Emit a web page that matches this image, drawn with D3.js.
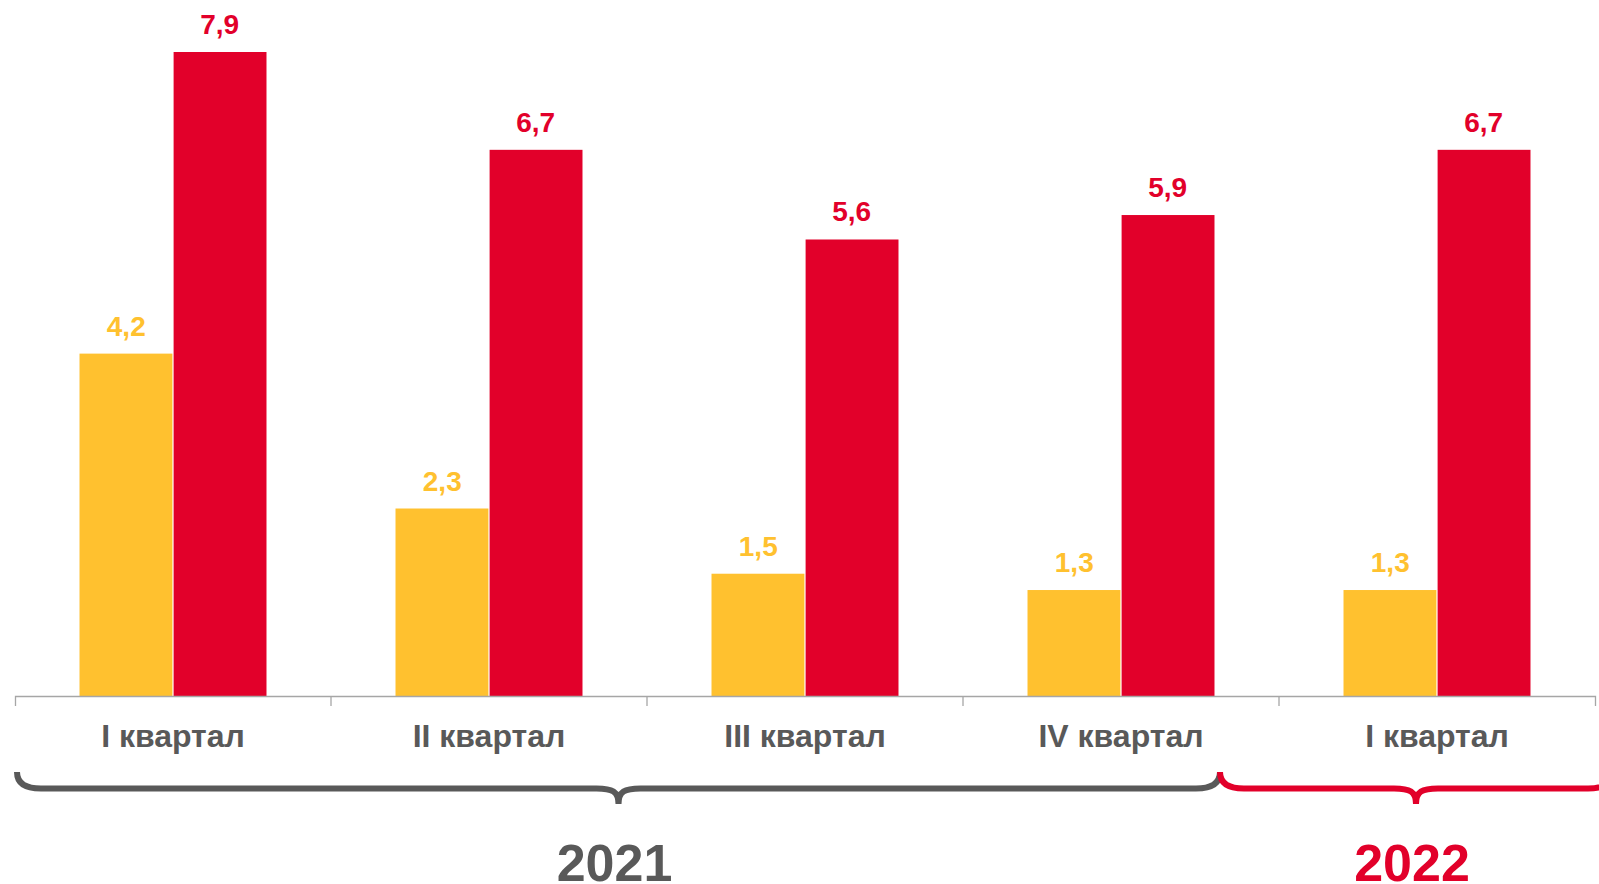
<!DOCTYPE html>
<html>
<head>
<meta charset="utf-8">
<script src="https://cdn.jsdelivr.net/npm/d3@7"></script>
<style>
  body { margin: 0; background: #fff; }
  text { font-family: "Liberation Sans", Arial, sans-serif; font-weight: bold; }
</style>
</head>
<body>
<div id="chart"></div>
<script>
// данные
const quarters = ["I квартал", "II квартал", "III квартал", "IV квартал", "I квартал"];
const seriesNames = ["a", "b"];
const yellowValues = [4.2, 2.3, 1.5, 1.3, 1.3];
const redValues = [7.9, 6.7, 5.6, 5.9, 6.7];
const years = ["2021", "2022"];

const colors = { a: "#FFC12F", b: "#E2002A" };
const gray = "#595959";

const width = 1599, height = 884;
const baseY = 696;

const svg = d3.select("#chart")
  .append("svg")
  .attr("width", width)
  .attr("height", height);

const keys = quarters.map((d, i) => i);

// escalas
const x = d3.scaleBand()
  .domain(keys)
  .range([15, 1595]);

const x1 = d3.scaleBand()
  .domain(seriesNames)
  .range([0, x.bandwidth()])
  .paddingInner(0)
  .paddingOuter(0.69);

const y = d3.scaleLinear()
  .domain([0, 7.9])
  .range([baseY, 52]);

const rows = keys.map(i => ({ i, a: yellowValues[i], b: redValues[i] }));

// barras
const groups = svg.selectAll(".grp")
  .data(rows)
  .enter()
  .append("g")
  .attr("transform", d => `translate(${x(d.i)},0)`);

groups.selectAll("rect")
  .data(d => seriesNames.map(s => ({ s, v: d[s] })))
  .enter()
  .append("rect")
  .attr("x", d => x1(d.s) + (d.s === "b" ? 0.6 : 0))
  .attr("y", d => y(d.v))
  .attr("width", x1.bandwidth() - 0.6)
  .attr("height", d => baseY - y(d.v))
  .attr("fill", d => colors[d.s]);

groups.selectAll(".lbl")
  .data(d => seriesNames.map(s => ({ s, v: d[s] })))
  .enter()
  .append("text")
  .attr("x", d => x1(d.s) + x1.bandwidth() / 2)
  .attr("y", d => y(d.v) - 18)
  .attr("text-anchor", "middle")
  .attr("font-size", 28)
  .attr("fill", d => colors[d.s])
  .text(d => d3.format(".1f")(d.v).replace(".", ","));

// ось X
const axis = svg.append("g")
  .attr("transform", `translate(0,${baseY})`)
  .call(d3.axisBottom(x)
    .tickSizeInner(0)
    .tickSizeOuter(10)
    .tickPadding(51)
    .tickFormat(i => quarters[i]));

axis.select(".domain").attr("stroke", "#A6A6A6").attr("stroke-width", 1.3);
axis.selectAll(".tick text")
  .attr("font-size", 32)
  .attr("fill", gray)
  .attr("dy", 0);

axis.selectAll(".sep")
  .data(keys.slice(1))
  .enter()
  .append("line")
  .attr("x1", d => x(d))
  .attr("x2", d => x(d))
  .attr("y1", 0)
  .attr("y2", 10)
  .attr("stroke", "#A6A6A6")
  .attr("stroke-width", 1.3);

// фигурные скобки
function brace(xa, xb, yEnd, yLine, yTip) {
  const xm = (xa + xb) / 2, r = 24, r2 = 22;
  return `M${xa},${yEnd} Q${xa},${yLine} ${xa + r},${yLine} ` +
    `L${xm - r2},${yLine} C${xm - 6},${yLine} ${xm},${yLine + 3} ${xm},${yTip} ` +
    `C${xm},${yLine + 3} ${xm + 6},${yLine} ${xm + r2},${yLine} ` +
    `L${xb - r},${yLine} Q${xb},${yLine} ${xb},${yEnd}`;
}

const split = x(4) - 59;
const braceSpans = [
  [x(0) + 2, split],
  [split, split + 392]
];
const braceColors = [gray, colors.b];

svg.selectAll(".brace")
  .data(braceSpans)
  .enter()
  .append("path")
  .attr("d", d => brace(d[0], d[1], 772, 788.5, 804))
  .attr("fill", "none")
  .attr("stroke", (d, i) => braceColors[i])
  .attr("stroke-width", 6)
  .attr("stroke-linecap", "butt");

svg.selectAll(".year")
  .data(years)
  .enter()
  .append("text")
  .attr("x", (d, i) => (braceSpans[i][0] + braceSpans[i][1]) / 2 - 4)
  .attr("y", 881)
  .attr("text-anchor", "middle")
  .attr("font-size", 52)
  .attr("fill", (d, i) => braceColors[i])
  .text(d => d);
</script>
</body>
</html>
